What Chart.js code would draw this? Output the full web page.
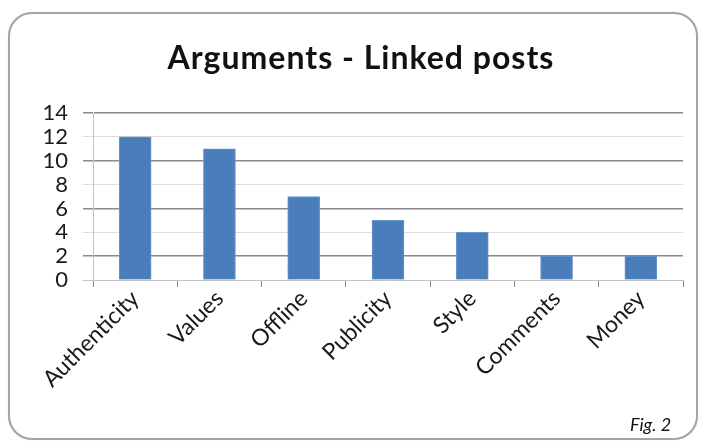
<!DOCTYPE html>
<html>
<head>
<meta charset="utf-8">
<script src="https://cdn.jsdelivr.net/npm/chart.js@4.4.0/dist/chart.umd.min.js"></script>
<style>
  html, body { margin: 0; padding: 0; background: #fff; }
  #wrap { position: relative; width: 704px; height: 441px; overflow: hidden; }
  #frame {
    position: absolute; left: 8px; top: 12px; width: 690px; height: 428px;
    border: 2px solid #a3a3a3; border-radius: 24px; box-sizing: border-box;
    box-shadow: 0 0 1px #ccc;
  }
  #chart { position: absolute; left: 0; top: 0; }
  .title {
    position: absolute; left: 361px; top: 41px; transform: translateX(-50%);
    font: bold 32px Lato, sans-serif; letter-spacing: 1px; line-height: 1;
    color: #111; white-space: nowrap;
  }
  .fig {
    position: absolute; left: 630px; top: 415px;
    font: italic 18px Lato, sans-serif; line-height: 1; color: #111;
  }
</style>
</head>
<body>
<div id="wrap">
  <div id="frame"></div>
  <canvas id="chart" width="704" height="441"></canvas>
  <div class="title">Arguments - Linked posts</div>
  <div class="fig">Fig. 2</div>
</div>
<script>
const categories = ['Authenticity', 'Values', 'Offline', 'Publicity', 'Style', 'Comments', 'Money'];
const counts = [12, 11, 7, 5, 4, 2, 2];
const y_ticks = [0, 2, 4, 6, 8, 10, 12, 14];

// every other gridline is drawn darker, the rest faint
function gridColor(ctx) {
  const v = ctx.tick ? ctx.tick.value : 0;
  if (v === 0) return '#c4c4c4';
  return (v % 4 === 2) ? '#8a8a8a' : '#dcdcdc';
}

const ctx = document.getElementById('chart');
new Chart(ctx, {
  type: 'bar',
  data: {
    labels: categories,
    datasets: [{
      data: counts,
      backgroundColor: '#4a7ebb',
      borderColor: '#6a96cc',
      borderWidth: 1,
      barThickness: 32
    }]
  },
  options: {
    responsive: false,
    animation: false,
    layout: { padding: { top: 113, right: 21, left: 0, bottom: 0 } },
    plugins: {
      legend: { display: false },
      title: { display: false },
      tooltip: { enabled: false }
    },
    scales: {
      x: {
        afterFit: function (scale) { scale.height = 161; },
        grid: {
          offset: true,
          drawOnChartArea: false,
          tickLength: 7,
          color: '#8a8a8a'
        },
        border: { color: '#c4c4c4', width: 1 },
        ticks: {
          minRotation: 45,
          maxRotation: 45,
          autoSkip: false,
          padding: -2,
          color: '#1a1a1a',
          font: { family: 'Lato', size: 23 }
        }
      },
      y: {
        min: 0,
        max: 14,
        afterFit: function (scale) { scale.width = 93; },
        afterBuildTicks: function (scale) {
          scale.ticks = y_ticks.map(v => ({ value: v }));
        },
        grid: {
          color: gridColor,
          lineWidth: function (c) { return (c.tick && c.tick.value % 4 === 2) ? 1.5 : 1; },
          tickLength: 10
        },
        border: { color: '#c4c4c4', width: 1 },
        ticks: {
          autoSkip: false,
          padding: 15,
          color: '#1a1a1a',
          font: { family: 'Lato', size: 22 }
        }
      }
    }
  }
});
</script>
</body>
</html>
